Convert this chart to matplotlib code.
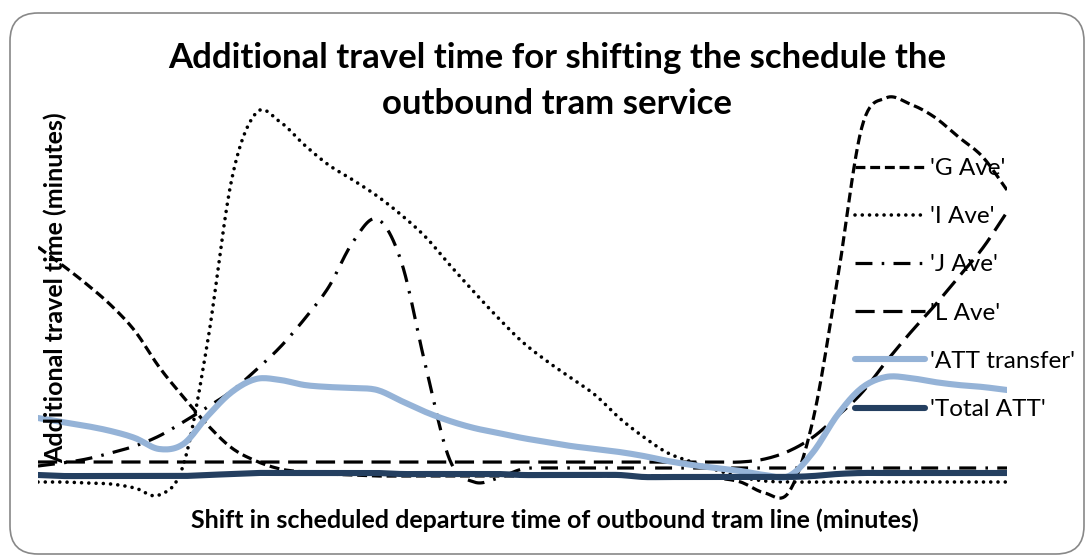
import numpy as np
import matplotlib
matplotlib.use("Agg")
from matplotlib import pyplot as plt
from matplotlib.patches import FancyBboxPatch
from matplotlib.transforms import IdentityTransform

plt.rcParams['font.family'] = ['Lato', 'DejaVu Sans']

# shift in departure time (minutes)
shift = list(range(-20, 21))

# additional travel time (minutes)
g_ave = [23.3, 21.5, 19.6, 17.5, 14.9, 11.3, 8.3, 5.5, 3.2, 1.9,
         1.1, 0.8, 0.6, 0.5, 0.4, 0.4, 0.4, 0.4, 0.4, 0.4,
         0.4, 0.4, 0.4, 0.4, 0.4, 0.4, 0.4, 0.4, 0.2, -0.2,
         -1.3, -1.2, 6.1, 20.0, 35.2, 38.2, 37.6, 36.3, 34.3, 32.3, 29.0]
i_ave = [-0.2, -0.2, -0.3, -0.4, -0.8, -1.5, 1.5, 13.8, 30.1, 36.7,
         35.8, 33.5, 31.5, 30.0, 28.4, 26.5, 24.3, 21.5, 18.8, 16.2,
         13.8, 11.9, 10.2, 8.5, 6.2, 4.3, 2.7, 1.8, 1.0, 0.3,
         -0.1, -0.2, -0.2, -0.2, -0.2, -0.2, -0.2, -0.2, -0.2, -0.2, -0.2]
j_ave = [1.4, 1.7, 2.1, 2.7, 3.4, 4.4, 5.8, 7.3, 8.9, 11.0,
         13.3, 16.1, 19.3, 23.8, 26.1, 21.8, 11.4, 2.0, -0.2, 0.2,
         1.1, 1.2, 1.2, 1.2, 1.2, 1.2, 1.2, 1.2, 1.2, 1.2,
         1.2, 1.2, 1.2, 1.2, 1.2, 1.2, 1.2, 1.2, 1.2, 1.2, 1.2]
l_ave = [1.8] * 30 + [2.1, 2.9, 4.3, 6.4, 8.7, 11.8, 14.7, 17.4, 20.3, 23.2, 26.8]
att_transfer = [6.2, 5.8, 5.4, 4.9, 4.2, 3.1, 3.6, 6.4, 8.8, 10.1,
                10.0, 9.5, 9.3, 9.2, 9.0, 7.9, 6.8, 5.9, 5.2, 4.7,
                4.2, 3.8, 3.4, 3.1, 2.8, 2.4, 1.9, 1.5, 1.2, 0.9,
                0.5, 0.4, 2.8, 6.5, 9.2, 10.3, 10.2, 9.8, 9.5, 9.3, 9.0]
total_att = [0.5, 0.4, 0.4, 0.4, 0.4, 0.4, 0.4, 0.5, 0.6, 0.7,
             0.7, 0.7, 0.7, 0.7, 0.7, 0.6, 0.6, 0.6, 0.6, 0.6,
             0.5, 0.5, 0.5, 0.5, 0.5, 0.3, 0.3, 0.3, 0.3, 0.3,
             0.3, 0.3, 0.4, 0.6, 0.7, 0.7, 0.7, 0.7, 0.7, 0.7, 0.7]

labels = ["'G Ave'", "'I Ave'", "'J Ave'", "'L Ave'", "'ATT transfer'", "'Total ATT'"]


# smooth line like excel (catmull-rom through the points)
def smooth(x, y, n=12):
    x = np.asarray(x, float)
    y = np.asarray(y, float)
    p = np.concatenate([[2 * y[0] - y[1]], y, [2 * y[-1] - y[-2]]])
    xs, ys = [], []
    for k in range(len(y) - 1):
        p0, p1, p2, p3 = p[k], p[k + 1], p[k + 2], p[k + 3]
        t = np.linspace(0, 1, n, endpoint=False)
        yy = 0.5 * ((2 * p1) + (-p0 + p2) * t + (2 * p0 - 5 * p1 + 4 * p2 - p3) * t ** 2
                    + (-p0 + 3 * p1 - 3 * p2 + p3) * t ** 3)
        xs.append(x[k] + (x[k + 1] - x[k]) * t)
        ys.append(yy)
    xs.append([x[-1]])
    ys.append([y[-1]])
    return np.concatenate(xs), np.concatenate(ys)


fig = plt.figure(figsize=(10.91, 5.58), dpi=100)

# rounded chart border
border = FancyBboxPatch((10, 4), 1074, 541, boxstyle="round,pad=0,rounding_size=28",
                        transform=IdentityTransform(), fc='none', ec='#888888', lw=1.2,
                        zorder=-1)
fig.patches.append(border)

ax = fig.add_axes([38 / 1091, 53 / 558, 969 / 1091, 415 / 558])
ax.set_facecolor('none')

styles = [
    dict(color='black', lw=2.3, ls=(0, (3.1, 1.5))),
    dict(color='black', lw=2.6, ls=(0, (0.01, 2.0)), dash_capstyle='round'),
    dict(color='black', lw=2.3, ls=(0, (5.3, 2.9, 0.8, 2.9))),
    dict(color='black', lw=2.3, ls=(0, (6.0, 2.7))),
    dict(color='#95b3d7', lw=4.4, solid_capstyle='round'),
    dict(color='#243f60', lw=4.4, solid_capstyle='round'),
]
series = [g_ave, i_ave, j_ave, l_ave, att_transfer, total_att]

for s, st, lab in zip(series, styles, labels):
    xs, ys = smooth(shift, s)
    ax.plot(xs, ys, label=lab, **st)

ax.set_xlim(-20, 20)
ax.set_ylim(-2.5, 39)
ax.axis('off')

leg = ax.legend(loc='upper left', bbox_to_anchor=(855 / 1091, 1 - 158 / 558),
                bbox_transform=fig.transFigure, frameon=False, fontsize=17.5,
                handlelength=2.9, handletextpad=0.2, labelspacing=1.12,
                borderpad=0, borderaxespad=0)

# title in two lines
fig.text(557 / 1091, 1 - 58 / 558, "Additional travel time for shifting the schedule the",
         ha='center', va='center', fontsize=25, fontweight='bold')
fig.text(557 / 1091, 1 - 104 / 558, "outbound tram service",
         ha='center', va='center', fontsize=25, fontweight='bold')
fig.text(55 / 1091, 1 - 288 / 558, "Additional travel time (minutes)",
         rotation=90, ha='center', va='center', fontsize=18, fontweight='bold')
fig.text(555 / 1091, 1 - 520 / 558,
         "Shift in scheduled departure time of outbound tram line (minutes)",
         ha='center', va='center', fontsize=18, fontweight='bold')

fig.savefig('out.png', dpi=100)
